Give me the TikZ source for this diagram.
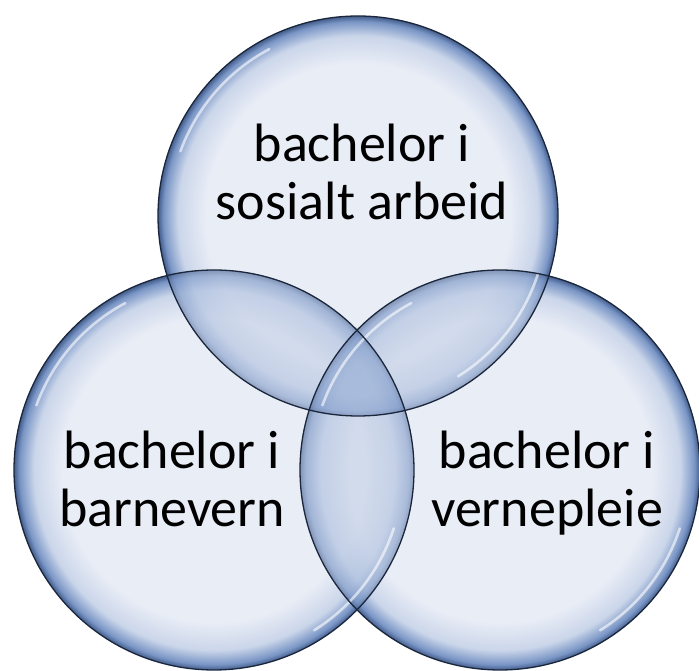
\documentclass[tikz,border=0pt]{standalone}
\usepackage{fontspec}
\setmainfont{Carlito}
\usepackage{xcolor}
\usetikzlibrary{calc}
\definecolor{bubin}{RGB}{233,237,246}
\definecolor{bubsoft}{RGB}{203,214,234}
\definecolor{bubmid}{RGB}{122,150,198}
\definecolor{bubrim}{RGB}{66,92,138}
\definecolor{dblin}{RGB}{210,219,236}
\definecolor{dblsoft}{RGB}{182,198,226}
\definecolor{triin}{RGB}{180,197,226}
\definecolor{trisoft}{RGB}{160,180,215}
\definecolor{bubline}{RGB}{26,38,60}
\pgfdeclareradialshading{bubble}{\pgfpoint{0bp}{0bp}}{color(0bp)=(bubin); color(19bp)=(bubin); color(22.5bp)=(bubsoft); color(24.3bp)=(bubmid); color(25bp)=(bubrim); color(50bp)=(bubrim)}
\pgfdeclareradialshading{bubbledbl}{\pgfpoint{0bp}{0bp}}{color(0bp)=(dblin); color(19bp)=(dblin); color(22.5bp)=(dblsoft); color(24.3bp)=(bubmid); color(25bp)=(bubrim); color(50bp)=(bubrim)}
\pgfdeclareradialshading{bubbletri}{\pgfpoint{0bp}{0bp}}{color(0bp)=(triin); color(19bp)=(triin); color(22.5bp)=(trisoft); color(24.3bp)=(bubmid); color(25bp)=(bubrim); color(50bp)=(bubrim)}
\tikzset{
  ring/.style={draw=bubline,line width=1.3pt},
  glint/.style={draw=white,line width=2.6pt,line cap=round,opacity=0.6},
  lbl/.style={font=\fontsize{54}{58}\selectfont,align=center,inner sep=0pt,text=black,anchor=base}
}

\begin{document}
\begin{tikzpicture}[x=1pt,y=1pt]
  \useasboundingbox (0,0) rectangle (699,671);

  % circle centres
  \coordinate (ctop) at (358,455);
  \coordinate (cleft) at (214,201);
  \coordinate (cright) at (500,201);

  % single bubbles
  \foreach \c in {ctop,cleft,cright}
    \shade[shading=bubble] (\c) circle[radius=200];

  % pairwise overlaps
  \foreach \a/\b in {ctop/cleft,ctop/cright,cleft/cright}{
    \begin{scope}
      \clip (\a) circle[radius=200];
      \clip (\b) circle[radius=200];
      \shade[shading=bubbledbl] (\a) circle[radius=200];
      \shade[shading=bubbledbl,fill opacity=0.55] (\b) circle[radius=200];
    \end{scope}
  }

  % middle overlap
  \begin{scope}
    \clip (ctop) circle[radius=200];
    \clip (cleft) circle[radius=200];
    \clip (cright) circle[radius=200];
    \shade[shading=bubbletri] (ctop) circle[radius=200];
    \shade[shading=bubbletri,fill opacity=0.5] (cleft) circle[radius=200];
    \shade[shading=bubbletri,fill opacity=0.35] (cright) circle[radius=200];
  \end{scope}

  % glints
  \foreach \c in {ctop,cleft,cright}{
    \draw[glint] ($(\c)+(118:189)$) arc[start angle=118,end angle=160,radius=189];
    \draw[glint] ($(\c)+(-58:189)$) arc[start angle=-58,end angle=-18,radius=189];
  }

  % outlines
  \foreach \c in {ctop,cleft,cright}
    \draw[ring] (\c) circle[radius=200];

  % labels (base = last line)
  \node[lbl] (ttop) at (362,451) {bachelor i\\sosialt arbeid};
  \node[lbl] (tleft) at (172,144) {bachelor i\\barnevern};
  \node[lbl] (tright) at (547,144) {bachelor i\\vernepleie};
\end{tikzpicture}
\end{document}
